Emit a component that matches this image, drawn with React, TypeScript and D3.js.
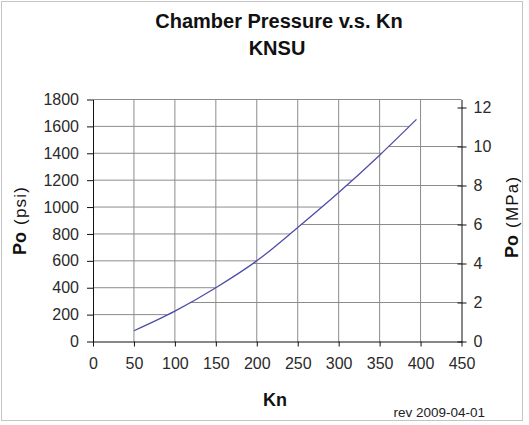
import { useEffect, useRef } from 'react';
import * as d3 from 'd3';

// Kn values and chamber pressure in psi
const knValues = [50, 100, 150, 200, 250, 300, 350, 395];
const psiValues = [80, 226, 400, 600, 848, 1108, 1386, 1652];
const psiTicks = [0, 200, 400, 600, 800, 1000, 1200, 1400, 1600, 1800];
const mpaTicks = [0, 2, 4, 6, 8, 10, 12];
const knTicks = [0, 50, 100, 150, 200, 250, 300, 350, 400, 450];

const PSI_PER_MPA = 145.038;

export default function App() {
  const svgRef = useRef<SVGSVGElement>(null);

  useEffect(() => {
    if (!svgRef.current) return;
    const W = 529;
    const H = 425;
    const margin = { top: 99.5, right: 67.5, bottom: 83.5, left: 93 };
    const left = margin.left;
    const right = W - margin.right;
    const top = margin.top;
    const bottom = H - margin.bottom;
    const font = 'Arial, "Liberation Sans", sans-serif';

    const svg = d3.select(svgRef.current);
    svg.selectAll('*').remove();

    svg.append('rect')
      .attr('x', 0).attr('y', 0).attr('width', W).attr('height', H)
      .attr('fill', '#fff');
    svg.append('rect')
      .attr('x', 1.5).attr('y', 1.5).attr('width', 521).attr('height', 419)
      .attr('fill', 'none').attr('stroke', '#c4c4c4');

    const x = d3.scaleLinear().domain([0, 450]).range([left, right]);
    const y = d3.scaleLinear().domain([0, 1800]).range([bottom, top]);
    const y2 = d3.scaleLinear().domain([0, 1800 / PSI_PER_MPA]).range([bottom, top]);

    const pts: [number, number][] = knValues.map((k, i) => [x(k), y(psiValues[i])]);
    const first = pts[0];
    const last = pts[pts.length - 1];

    // psi gridlines show above the curve, MPa gridlines below it
    const defs = svg.append('defs');
    const above: [number, number][] = [
      [left, bottom], [left, top], [last[0], top],
      ...[...pts].reverse(),
      [first[0], bottom],
    ];
    const below: [number, number][] = [
      ...pts, [right, last[1]], [right, bottom], [first[0], bottom],
    ];
    defs.append('clipPath').attr('id', 'clipAbove')
      .append('polygon').attr('points', above.map(p => p.join(',')).join(' '));
    defs.append('clipPath').attr('id', 'clipBelow')
      .append('polygon').attr('points', below.map(p => p.join(',')).join(' '));

    const grid = '#8c8c8c';

    // vertical gridlines
    svg.append('g').selectAll('line')
      .data(knTicks.filter(k => k > 0 && k < 450))
      .enter().append('line')
      .attr('x1', d => x(d)).attr('x2', d => x(d))
      .attr('y1', top).attr('y2', bottom)
      .attr('stroke', grid).attr('stroke-width', 1);

    svg.append('g').attr('clip-path', 'url(#clipAbove)').selectAll('line')
      .data(psiTicks.filter(v => v > 0 && v < 1800))
      .enter().append('line')
      .attr('x1', left).attr('x2', right)
      .attr('y1', d => y(d)).attr('y2', d => y(d))
      .attr('stroke', grid).attr('stroke-width', 1);

    svg.append('g').attr('clip-path', 'url(#clipBelow)').selectAll('line')
      .data(mpaTicks.filter(v => v > 0))
      .enter().append('line')
      .attr('x1', left).attr('x2', right)
      .attr('y1', d => y2(d)).attr('y2', d => y2(d))
      .attr('stroke', grid).attr('stroke-width', 1);

    // top border (1800 line)
    svg.append('line')
      .attr('x1', left).attr('x2', right).attr('y1', top).attr('y2', top)
      .attr('stroke', grid).attr('stroke-width', 1);

    // curve
    const line = d3.line<[number, number]>().curve(d3.curveMonotoneX);
    svg.append('path')
      .attr('d', line(pts))
      .attr('fill', 'none')
      .attr('stroke', '#4d4daa')
      .attr('stroke-width', 1.3);

    const axisColor = '#111';
    const labelColor = '#2a2a2a';
    const fmt = d3.format('d');

    const gl = svg.append('g').attr('transform', `translate(${left},0)`)
      .call(d3.axisLeft(y).tickValues(psiTicks).tickFormat(d => fmt(d as number))
        .tickSize(6).tickPadding(8).tickSizeOuter(0));
    const gr = svg.append('g').attr('transform', `translate(${right},0)`)
      .call(d3.axisRight(y2).tickValues(mpaTicks).tickFormat(d => fmt(d as number))
        .tickSize(5).tickPadding(7).tickSizeOuter(0));
    gr.selectAll('.tick line').attr('x1', -4);
    const gb = svg.append('g').attr('transform', `translate(0,${bottom})`)
      .call(d3.axisBottom(x).tickValues(knTicks).tickFormat(d => fmt(d as number))
        .tickSize(5).tickPadding(11).tickSizeOuter(0));

    [gl, gr, gb].forEach(g => {
      g.select('.domain').attr('stroke', axisColor);
      g.selectAll('.tick line').attr('stroke', axisColor);
      g.selectAll('.tick text')
        .attr('fill', labelColor)
        .style('font-family', font)
        .style('font-size', '16px');
    });

    // titles
    svg.append('text')
      .attr('x', 279).attr('y', 28)
      .attr('text-anchor', 'middle')
      .style('font-family', font).style('font-size', '20px').style('font-weight', 'bold')
      .attr('fill', '#111')
      .text('Chamber Pressure v.s. Kn');
    svg.append('text')
      .attr('x', 277).attr('y', 55)
      .attr('text-anchor', 'middle')
      .style('font-family', font).style('font-size', '20px').style('font-weight', 'bold')
      .attr('fill', '#111')
      .text('KNSU');

    svg.append('text')
      .attr('x', 275).attr('y', 406)
      .attr('text-anchor', 'middle')
      .style('font-family', font).style('font-size', '18px').style('font-weight', 'bold')
      .attr('fill', '#111')
      .text('Kn');

    const yTitle = (tx: number, ty: number, unit: string) => {
      const t = svg.append('text')
        .attr('transform', `translate(${tx},${ty}) rotate(-90)`)
        .style('font-family', font)
        .attr('fill', '#111');
      t.append('tspan').style('font-size', '18px').style('font-weight', 'bold').text('Po');
      t.append('tspan').attr('dx', 7)
        .style('font-size', '17px').style('letter-spacing', '1.2px').text(unit);
    };
    yTitle(26, 255, '(psi)');
    yTitle(518, 258, '(MPa)');

    svg.append('text')
      .attr('x', 485).attr('y', 417)
      .attr('text-anchor', 'end')
      .style('font-family', font).style('font-size', '13.5px')
      .attr('fill', '#222')
      .text('rev 2009-04-01');
  }, []);

  return (
    <svg
      ref={svgRef}
      width={529}
      height={425}
      style={{ position: 'absolute', left: 0, top: 0 }}
    />
  );
}
